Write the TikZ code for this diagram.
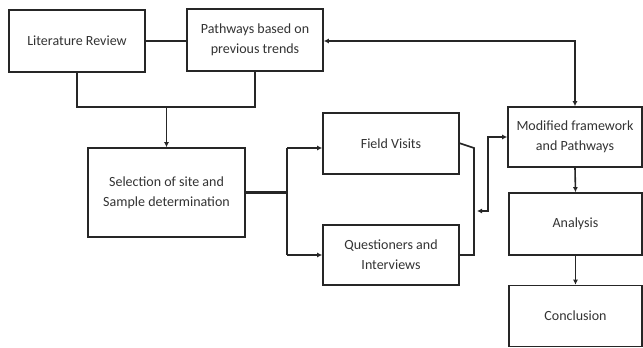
\documentclass[tikz,border=0pt]{standalone}
\usepackage{fontspec}
\setmainfont{Carlito}
\usetikzlibrary{arrows.meta}
\begin{document}
\begin{tikzpicture}[x=1pt,y=-1pt,
  box/.style={draw=black!85,line width=1.6pt,fill=white,align=center,inner sep=0pt,
    font=\fontsize{14}{20}\selectfont,text=black!80},
  conn/.style={draw=black!85,line width=1.6pt},
  tip/.style={-{Latex[length=5pt,width=5pt]}},
  bothtip/.style={{Latex[length=5pt,width=5pt]}-{Latex[length=5pt,width=5pt]}}]
\useasboundingbox (0,0) rectangle (643,348);
\node[box,minimum width=136pt,minimum height=62pt] (lr) at (77,41) {Literature Review};
\node[box,minimum width=136pt,minimum height=62pt] (pw) at (255,40) {Pathways based on\\previous trends};
\node[box,minimum width=157pt,minimum height=89pt] (sel) at (166.5,192.5) {Selection of site and\\Sample determination};
\node[box,minimum width=136pt,minimum height=61pt] (fv) at (391,143.5) {Field Visits};
\node[box,minimum width=136pt,minimum height=60pt] (qi) at (391,255) {Questioners and\\Interviews};
\node[box,minimum width=134pt,minimum height=60pt] (mod) at (575,137) {Modified framework\\and Pathways};
\node[box,minimum width=133pt,minimum height=62pt] (an) at (575.5,224) {Analysis};
\node[box,minimum width=133pt,minimum height=61pt] (con) at (575.5,316) {Conclusion};
% top links
\draw[conn] (lr.east) -- (lr.east -| pw.west);
\coordinate (j1) at (166.5,107);
\draw[conn] (lr.south) |- (j1) -| (pw.south);
\draw[conn,tip] (j1) -- (sel.north);
% branch from selection
\coordinate (br) at (287,192.5);
\coordinate (bt) at (287,148);
\coordinate (bb) at (287,255);
\draw[draw=black!85,line width=2.6pt] (sel.east) -- (br);
\draw[conn] (bt) -- (bb);
\draw[conn,tip] (bt) -- (bt -| fv.west);
\draw[conn,tip] (bb) -- (qi.west);
% merge from field visits and questioners
\coordinate (m1) at (459,143);
\coordinate (m2) at (474,148);
\coordinate (m3) at (474,255);
\draw[conn] (m1) -- (m2) -- (m3) -- (qi.east);
% double arrow to modified
\coordinate (d1) at (477,211);
\coordinate (d2) at (488,211);
\draw[conn,bothtip] (d1) -- (d2) |- (mod.west);
% feedback to pathways
\coordinate (f1) at (575,41);
\draw[conn,bothtip] (pw.east |- f1) -- (f1) -- (mod.north);
% right column
\draw[conn,tip] (mod.south) -- (an.north);
\draw[conn,tip] (an.south) -- (con.north);
\end{tikzpicture}
\end{document}
